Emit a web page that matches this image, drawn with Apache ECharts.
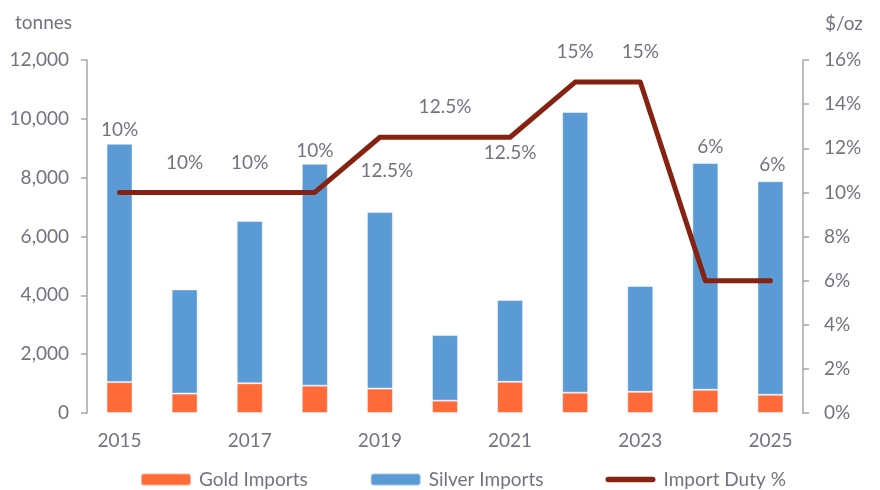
<!DOCTYPE html>
<html>
<head>
<meta charset="utf-8">
<script src="https://cdn.jsdelivr.net/npm/echarts@6/dist/echarts.min.js"></script>
<style>
  html, body {margin: 0; padding: 0; background: #fff;}
  #chart {width: 880px; height: 490px;}
</style>
</head>
<body>
<div id="chart"></div>
<script>
// data
var years = ['2015', '2016', '2017', '2018', '2019', '2020', '2021', '2022', '2023', '2024', '2025']
var goldImports = [1050, 660, 1010, 930, 830, 420, 1060, 690, 720, 790, 620]
var silverImports = [8100, 3540, 5520, 7540, 6000, 2230, 2780, 9540, 3600, 7710, 7260]
var importDuty = [10, 10, 10, 10, 12.5, 12.5, 12.5, 15, 15, 6, 6]

// where each duty label sits relative to its point (px)
var labelShift = [[0, -63], [0, -30], [0, -30], [0, -42], [7, 34], [0, -30], [0, 16], [0, -30], [0, -30], [5, -134], [2, -116]]

var textColor = '#76717e'
var axisColor = '#a6a6a6'
var goldColor = '#ff6a39'
var silverColor = '#5b9bd5'
var dutyColor = '#862211'
var font = 'Lato'
var fontSize = 19

var chart = echarts.init(document.getElementById('chart'))

var dutyData = importDuty.map(function (v, i) {
  return {value: v, label: {offset: labelShift[i]}}
})

chart.setOption({
  animation: false,
  textStyle: {fontFamily: font},
  grid: {left: 87, right: 77, top: 60, bottom: 77},
  legend: {
    left: 135,
    bottom: -4,
    itemWidth: 50,
    itemHeight: 12,
    itemGap: 62,
    textStyle: {color: textColor, fontSize: fontSize, fontFamily: font, padding: [0, 0, 0, 3]},
    data: [
      {name: 'Gold Imports'},
      {name: 'Silver Imports'},
      // thick round-capped line like the reference key
      {name: 'Import Duty %', icon: 'path://M3,0 H53 A3,3 0 0 1 53,6 H3 A3,3 0 0 1 3,0 Z'}
    ]
  },
  xAxis: {
    type: 'category',
    data: years,
    axisLine: {show: false},
    axisTick: {show: false},
    axisLabel: {interval: 1, margin: 18, color: textColor, fontSize: fontSize, fontFamily: font}
  },
  yAxis: [{
    type: 'value',
    min: 0,
    max: 12000,
    interval: 2000,
    name: 'tonnes',
    nameGap: 28,
    nameTextStyle: {color: textColor, fontSize: fontSize, fontFamily: font, align: 'right', padding: [0, 15, 0, 0]},
    axisLine: {show: true, lineStyle: {color: axisColor, width: 1.5}},
    axisTick: {show: true, length: 6, lineStyle: {color: axisColor, width: 1.5}},
    splitLine: {show: false},
    axisLabel: {margin: 18, color: textColor, fontSize: fontSize, fontFamily: font}
  }, {
    type: 'value',
    min: 0,
    max: 16,
    interval: 2,
    name: '$/oz',
    nameGap: 27,
    nameTextStyle: {color: textColor, fontSize: fontSize, fontFamily: font, align: 'left', padding: [0, 0, 0, 22]},
    axisLine: {show: true, lineStyle: {color: axisColor, width: 1.5}},
    axisTick: {show: true, length: 6, lineStyle: {color: axisColor, width: 1.5}},
    splitLine: {show: false},
    axisLabel: {margin: 21, color: textColor, fontSize: fontSize, fontFamily: font, formatter: '{value}%'}
  }],
  series: [{
    name: 'Gold Imports',
    type: 'bar',
    stack: 'imports',
    barWidth: 26,
    itemStyle: {color: goldColor, borderColor: 'rgba(255,255,255,0.45)', borderWidth: 1},
    data: goldImports
  }, {
    name: 'Silver Imports',
    type: 'bar',
    stack: 'imports',
    barWidth: 26,
    itemStyle: {color: silverColor, borderColor: 'rgba(255,255,255,0.45)', borderWidth: 1},
    data: silverImports
  }, {
    name: 'Import Duty %',
    type: 'line',
    yAxisIndex: 1,
    symbol: 'circle',
    symbolSize: 1,
    lineStyle: {color: dutyColor, width: 5, cap: 'round', join: 'round'},
    itemStyle: {color: dutyColor},
    label: {
      show: true,
      position: 'inside',
      formatter: '{c}%',
      color: textColor,
      fontSize: fontSize,
      fontFamily: font
    },
    data: dutyData
  }]
})
</script>
</body>
</html>
